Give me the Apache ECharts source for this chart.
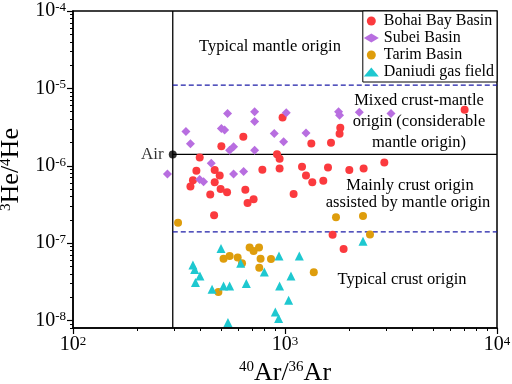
<!DOCTYPE html>
<html>
<head>
<meta charset="utf-8">
<script src="https://cdn.jsdelivr.net/npm/echarts@6/dist/echarts.min.js"></script>
<style>
html, body { margin: 0; padding: 0; background: #fff; }
#chart { width: 512px; height: 384px; }
</style>
</head>
<body>
<div id="chart"></div>
<script>
// 40Ar/36Ar vs 3He/4He
const bohaiBay = [
  [974, 4.2e-6], [636, 2.37e-6], [501, 1.78e-6], [1331, 1.94e-6], [396, 1.28e-6],
  [917, 1.41e-6], [943, 1.23e-6], [382, 8.6e-7], [466, 8.8e-7], [492, 7.5e-7],
  [782, 8.9e-7], [943, 9.2e-7], [368, 6.5e-7], [358, 5.4e-7], [466, 6.1e-7],
  [497, 5.0e-7], [533, 4.55e-7], [444, 4.25e-7], [650, 4.9e-7], [711, 3.7e-7],
  [666, 3.3e-7], [1098, 4.3e-7], [463, 2.3e-7], [1203, 9.7e-7], [1256, 7.5e-7],
  [1345, 6.1e-7], [1516, 6.4e-7], [1595, 9.5e-7], [1823, 3.1e-6], [1809, 2.6e-6],
  [1648, 1.98e-6], [2941, 1.1e-6], [2349, 9.2e-7], [2011, 8.8e-7], [7034, 5.3e-6],
  [1677, 1.28e-7], [1890, 8.4e-8]
];
const subei = [
  [536, 4.75e-6], [719, 4.98e-6], [719, 3.74e-6], [1014, 4.83e-6], [341, 2.78e-6],
  [358, 1.92e-6], [501, 3.04e-6], [519, 2.89e-6], [890, 2.62e-6], [1256, 2.66e-6],
  [985, 2.04e-6], [548, 1.59e-6], [572, 1.76e-6], [719, 1.59e-6], [449, 1.08e-6],
  [279, 7.8e-7], [572, 7.8e-7], [638, 8.4e-7], [396, 6.65e-7], [413, 6.2e-7],
  [1789, 4.98e-6], [1809, 4.5e-6], [2241, 4.9e-6], [3162, 4.75e-6]
];
const tarim = [
  [313, 1.83e-7], [681, 8.8e-8], [711, 7.9e-8], [754, 8.8e-8], [513, 6.3e-8],
  [548, 6.8e-8], [598, 6.5e-8], [627, 5.5e-8], [767, 6.3e-8], [859, 6.25e-8],
  [756, 4.8e-8], [485, 2.34e-8], [1367, 4.2e-8], [1740, 2.16e-7], [2333, 2.25e-7],
  [2517, 1.29e-7]
];
const daniudi = [
  [499, 8.5e-8], [368, 5.2e-8], [375, 4.56e-8], [397, 3.76e-8], [378, 3.1e-8],
  [453, 2.53e-8], [513, 2.8e-8], [548, 2.8e-8], [618, 5.5e-8], [657, 3.0e-8],
  [799, 4.24e-8], [937, 6.8e-8], [1168, 6.8e-8], [1067, 3.76e-8], [943, 2.8e-8],
  [1040, 1.83e-8], [900, 1.29e-8], [933, 1.06e-8], [538, 9.4e-9], [2333, 1.06e-7]
];

// air reference and region boundaries
const airAr = 295.5;
const airHe = 1.4e-6;
const mantleLimit = 1.1e-5;
const crustLimit = 1.4e-7;

const xDecades = [100, 1000, 10000];
const yDecades = [1e-8, 1e-7, 1e-6, 1e-5, 1e-4];
const xRange = [100, 10000];
const yRange = [8e-9, 1e-4];

const FONT = '"Liberation Serif", "Times New Roman", serif';
const lg = Math.log10;

function minorTicks(decades, lo, hi) {
  const out = [];
  const all = [decades[0] / 10].concat(decades);
  all.forEach(d => {
    for (let k = 2; k <= 9; k++) {
      const v = d * k;
      if (v >= lo && v <= hi) out.push(lg(v));
    }
  });
  return out;
}

const toLog = arr => arr.map(p => [lg(p[0]), lg(p[1])]);
const supRich = {
  s: { fontFamily: FONT, fontSize: 13, color: '#000', verticalAlign: 'top' }
};
const nameRich = {
  s: { fontFamily: FONT, fontSize: 15, color: '#000', verticalAlign: 'top' }
};
const expLabel = v => '10{s|' + Math.round(v) + '}';

const chart = echarts.init(document.getElementById('chart'));

const axisLineStyle = { color: '#000', width: 1.5 };

const option = {
  backgroundColor: '#fff',
  animation: false,
  grid: {
    left: 73, right: 15, top: 11, bottom: 56,
    outerBoundsMode: 'none',
    containLabel: false,
    show: true, borderColor: '#000', borderWidth: 1.5, backgroundColor: 'transparent'
  },
  legend: {
    orient: 'vertical',
    right: 15,
    top: 11,
    data: ['Bohai Bay Basin', 'Subei Basin', 'Tarim Basin', 'Daniudi gas field'],
    itemWidth: 15,
    itemHeight: 9,
    itemGap: 1,
    padding: [2, 3, 2, 1],
    borderColor: '#000',
    borderWidth: 1,
    backgroundColor: '#fff',
    textStyle: { fontFamily: FONT, fontSize: 16, lineHeight: 15, color: '#000' }
  },
  xAxis: [
    {
      type: 'value',
      position: 'bottom',
      min: lg(xRange[0]),
      max: lg(xRange[1]),
      axisLine: { lineStyle: axisLineStyle },
      axisTick: { length: 6, customValues: xDecades.map(lg), lineStyle: { color: '#000', width: 1.2 } },
      axisLabel: {
        customValues: xDecades.map(lg),
        formatter: expLabel,
        fontFamily: FONT, fontSize: 20, color: '#000', margin: 7,
        rich: supRich
      },
      splitLine: { show: false },
      name: '{s|40}Ar/{s|36}Ar',
      nameLocation: 'middle',
      nameGap: 29,
      nameTextStyle: { fontFamily: FONT, fontSize: 26, color: '#000', rich: nameRich }
    },
    {
      type: 'value',
      position: 'bottom',
      min: lg(xRange[0]),
      max: lg(xRange[1]),
      axisLine: { show: false },
      axisTick: { length: 3, customValues: minorTicks(xDecades, xRange[0], xRange[1]), lineStyle: { color: '#000', width: 1 } },
      axisLabel: { show: false },
      splitLine: { show: false }
    }
  ],
  yAxis: [
    {
      type: 'value',
      position: 'left',
      min: lg(yRange[0]),
      max: lg(yRange[1]),
      axisLine: { lineStyle: axisLineStyle },
      axisTick: { length: 6, customValues: yDecades.map(lg), lineStyle: { color: '#000', width: 1.2 } },
      axisLabel: {
        customValues: yDecades.map(lg),
        formatter: expLabel,
        fontFamily: FONT, fontSize: 20, color: '#000', margin: 7,
        rich: supRich
      },
      splitLine: { show: false },
      name: '{s|3}He/{s|4}He',
      nameLocation: 'middle',
      nameGap: 44,
      nameTextStyle: { fontFamily: FONT, fontSize: 26, color: '#000', rich: nameRich }
    },
    {
      type: 'value',
      position: 'left',
      min: lg(yRange[0]),
      max: lg(yRange[1]),
      axisLine: { show: false },
      axisTick: { length: 3, customValues: minorTicks(yDecades, yRange[0], yRange[1]), lineStyle: { color: '#000', width: 1 } },
      axisLabel: { show: false },
      splitLine: { show: false }
    }
  ],
  series: [
    {
      type: 'line', z: 1, symbol: 'none', silent: true,
      data: toLog([[airAr, yRange[0]], [airAr, yRange[1]]]),
      lineStyle: { color: '#000', width: 1.3 }
    },
    {
      type: 'line', z: 1, symbol: 'none', silent: true,
      data: toLog([[airAr, airHe], [xRange[1], airHe]]),
      lineStyle: { color: '#000', width: 1.3 }
    },
    {
      type: 'line', z: 1, symbol: 'none', silent: true,
      data: toLog([[airAr, mantleLimit], [xRange[1], mantleLimit]]),
      lineStyle: { color: '#1c1ca8', width: 1.2, type: [5, 3] }
    },
    {
      type: 'line', z: 1, symbol: 'none', silent: true,
      data: toLog([[airAr, crustLimit], [xRange[1], crustLimit]]),
      lineStyle: { color: '#1c1ca8', width: 1.2, type: [5, 3] }
    },
    {
      name: 'Bohai Bay Basin', type: 'scatter', z: 3,
      symbol: 'circle', symbolSize: 8,
      itemStyle: { color: '#fb3a3e', opacity: 1 },
      data: toLog(bohaiBay)
    },
    {
      name: 'Subei Basin', type: 'scatter', z: 3,
      symbol: 'diamond', symbolSize: 9,
      itemStyle: { color: '#b86ee0', opacity: 1 },
      data: toLog(subei)
    },
    {
      name: 'Tarim Basin', type: 'scatter', z: 3,
      symbol: 'circle', symbolSize: 8,
      itemStyle: { color: '#de9d0c', opacity: 1 },
      data: toLog(tarim)
    },
    {
      name: 'Daniudi gas field', type: 'scatter', z: 3,
      symbol: 'triangle', symbolSize: 9,
      itemStyle: { color: '#1ec8d0', opacity: 1 },
      data: toLog(daniudi)
    },
    {
      type: 'scatter', z: 4,
      symbol: 'circle', symbolSize: 8,
      itemStyle: { color: '#000' },
      label: {
        show: true, position: 'left', distance: 5, formatter: 'Air',
        fontFamily: FONT, fontSize: 17, color: '#000'
      },
      data: toLog([[airAr, airHe]])
    }
  ],
  graphic: [
    { text: 'Typical mantle origin', x: 270, y: 47 },
    { text: 'Mixed crust-mantle', x: 419, y: 101 },
    { text: 'origin (considerable', x: 419, y: 122 },
    { text: 'mantle origin)', x: 419, y: 143 },
    { text: 'Mainly crust origin', x: 410, y: 186 },
    { text: 'assisted by mantle origin', x: 408, y: 203 },
    { text: 'Typical crust origin', x: 402, y: 280 }
  ].map(t => ({
    type: 'text', x: t.x, y: t.y, z: 5, silent: true,
    style: {
      text: t.text, fill: '#000', font: '16.5px ' + FONT,
      textAlign: 'center', textVerticalAlign: 'middle'
    }
  }))
};

chart.setOption(option);
</script>
</body>
</html>
